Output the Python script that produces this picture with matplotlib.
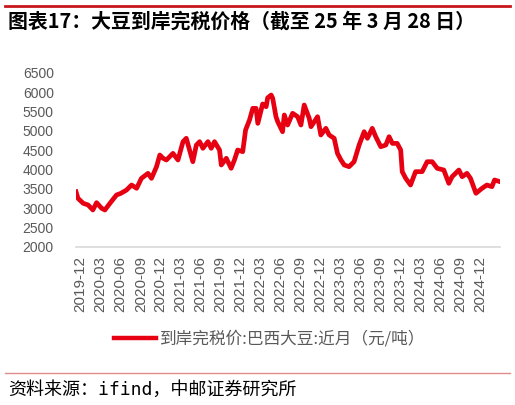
import numpy as np
import pandas as pd
import matplotlib
matplotlib.use('Agg')
import matplotlib.pyplot as plt
import matplotlib.dates as mdates
from matplotlib.lines import Line2D

plt.rcParams['font.family'] = ['Liberation Sans', 'Noto Sans CJK SC']

# 到岸完税价:巴西大豆:近月 (元/吨)
dates = [
    '2019-12-07', '2019-12-16', '2020-01-09', '2020-01-31', '2020-02-22', '2020-03-10',
    '2020-04-02', '2020-04-17', '2020-05-10', '2020-06-09', '2020-06-29', '2020-07-25',
    '2020-08-17', '2020-09-09', '2020-10-01', '2020-10-31', '2020-11-16', '2020-12-09',
    '2020-12-24', '2021-01-08', '2021-01-23', '2021-02-07', '2021-02-22', '2021-03-17',
    '2021-04-09', '2021-04-24', '2021-05-09', '2021-05-24', '2021-06-09', '2021-06-24',
    '2021-07-09', '2021-08-01', '2021-08-16', '2021-08-31', '2021-09-23', '2021-10-01',
    '2021-10-24', '2021-11-15', '2021-11-30', '2021-12-15', '2022-01-07', '2022-01-20',
    '2022-02-07', '2022-02-22', '2022-03-09', '2022-03-17', '2022-04-08', '2022-04-24',
    '2022-05-01', '2022-05-17', '2022-05-24', '2022-06-08', '2022-06-16', '2022-07-08',
    '2022-07-16', '2022-07-31', '2022-08-23', '2022-09-15', '2022-09-30', '2022-10-15',
    '2022-11-07', '2022-11-15', '2022-12-15', '2022-12-30', '2023-01-22', '2023-02-06',
    '2023-03-01', '2023-03-16', '2023-04-01', '2023-04-16', '2023-05-08', '2023-05-31',
    '2023-06-23', '2023-07-16', '2023-07-31', '2023-08-22', '2023-09-07', '2023-09-30',
    '2023-10-23', '2023-11-07', '2023-11-22', '2023-12-14', '2023-12-30', '2024-01-06',
    '2024-01-22', '2024-02-13', '2024-03-07', '2024-04-06', '2024-04-29', '2024-05-22',
    '2024-06-14', '2024-07-14', '2024-08-06', '2024-08-21', '2024-09-21', '2024-10-06',
    '2024-10-28', '2024-11-13', '2024-12-08', '2025-01-05', '2025-01-27', '2025-02-19',
    '2025-03-03', '2025-03-28',
]
prices = [
    3420, 3250, 3122, 3080, 2950, 3138,
    2993, 2949, 3122, 3337, 3380, 3466,
    3595, 3510, 3768, 3897, 3768, 4069,
    4371, 4286, 4242, 4327, 4414, 4242,
    4716, 4803, 4500, 4198, 4629, 4716,
    4545, 4716, 4545, 4716, 4500, 4113,
    4286, 4027, 4242, 4500, 4457, 5017,
    5276, 5578, 5578, 5190, 5690, 5621,
    5850, 5923, 5837, 5362, 5233, 4974,
    5406, 5147, 5450, 5362, 5147, 5664,
    5320, 5103, 5362, 4889, 5061, 4889,
    4803, 4414, 4242, 4113, 4069, 4198,
    4629, 4974, 4803, 5061, 4845, 4586,
    4629, 4845, 4672, 4672, 4500, 3940,
    3768, 3595, 3940, 3940, 4198, 4198,
    4027, 3983, 3638, 3810, 3983, 3810,
    3897, 3768, 3381, 3510, 3595, 3552,
    3725, 3681,
]
# labels sit on the 28th of each quarter month, counting back from 2025-03-28
tick_dates = pd.date_range('2019-12-01', '2024-12-01', freq='3MS') + pd.Timedelta(days=27)
y_ticks = np.arange(2000, 6501, 500)

title = '图表17：大豆到岸完税价格（截至 25 年 3 月 28 日）'
series_name = '到岸完税价:巴西大豆:近月（元/吨）'
source = '资料来源：ifind，中邮证券研究所'

red = '#E60012'
gray = '#595959'

x = pd.to_datetime(dates)

fig = plt.figure(figsize=(5.15, 4.05), dpi=100)
ax = fig.add_axes([0.1476, 0.3909, 0.8233, 0.4296])

ax.plot(x, prices, color=red, lw=3.4, solid_joinstyle='round', label=series_name)

ax.set_xlim(x[0], x[-1])
ax.set_ylim(2000, 6500)
ax.set_yticks(y_ticks)
ax.set_xticks(tick_dates)
ax.xaxis.set_major_formatter(mdates.DateFormatter('%Y-%m'))
ax.tick_params(axis='y', length=0, pad=16, labelsize=10, labelcolor=gray)
ax.tick_params(axis='x', length=0, pad=7, labelsize=11, labelcolor=gray, labelrotation=90)

for side in ['top', 'right', 'left']:
    ax.spines[side].set_visible(False)
ax.spines['bottom'].set_color('#D9D9D9')
ax.spines['bottom'].set_linewidth(1.2)

leg = fig.legend(handles=[Line2D([], [], color=red, lw=3.2)], labels=[series_name],
                 loc='center', bbox_to_anchor=(0.523, 0.163), frameon=False,
                 handlelength=2.55, handletextpad=0.2,
                 prop={'family': ['Noto Sans CJK SC'], 'size': 12})
for t in leg.get_texts():
    t.set_color(gray)

# header / footer decorations
fig.add_artist(Line2D([0.01, 0.99], [0.985, 0.985], color='#C8161D', lw=2))
fig.add_artist(Line2D([0.01, 0.99], [0.079, 0.079], color='#E08A8A', lw=1))
fig.text(0.016, 0.948, title, fontsize=14.3, fontweight='bold', va='center', ha='left',
         family=['Noto Sans CJK SC'], color='black')
fig.text(0.016, 0.037, source, fontsize=13, va='center', ha='left',
         family=['DejaVu Sans Mono', 'Noto Sans CJK SC'], color='black')

fig.savefig('out.png', dpi=100)
